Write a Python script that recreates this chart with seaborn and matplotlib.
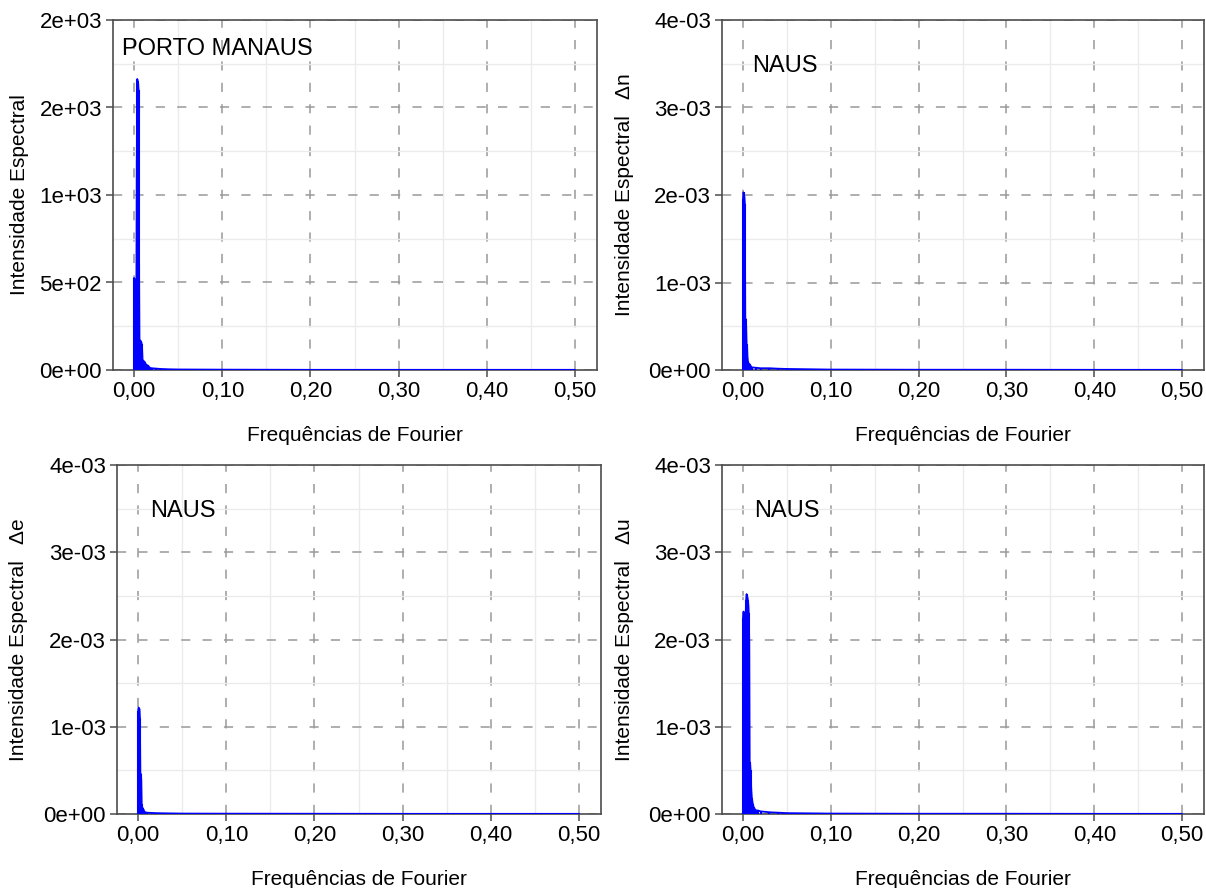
import matplotlib
matplotlib.use("Agg")
import matplotlib.pyplot as plt
import seaborn as sns
from matplotlib.ticker import FuncFormatter, MultipleLocator

# Periodogram ordinates (Fourier frequency, spectral intensity) per series
freq_porto = [0.0000, 0.0005, 0.0010, 0.0015, 0.0020, 0.0025, 0.0030, 0.0035, 0.0040,
              0.0045, 0.0050, 0.0055, 0.0060, 0.0065, 0.0070, 0.0075, 0.0080, 0.0085,
              0.0090, 0.0095, 0.0100, 0.0105, 0.0110, 0.0115, 0.0120, 0.0125, 0.0130,
              0.0135, 0.0145, 0.0155, 0.0165, 0.0180, 0.0200, 0.0250, 0.0300, 0.0400,
              0.0500, 0.1000, 0.2000, 0.3000, 0.4000, 0.5000]
spec_porto = [526, 520, 500, 400, 380, 354, 1200, 1663, 1650,
              1640, 1600, 600, 171, 170, 168, 165, 160, 150,
              120, 57, 55, 52, 50, 48, 45, 40, 35,
              29, 28, 26, 20, 12, 10, 8, 6, 4,
              3, 2, 1, 1, 1, 1]

freq_dn = [0.0000, 0.0005, 0.0010, 0.0015, 0.0020, 0.0025, 0.0030, 0.0035, 0.0040,
           0.0045, 0.0050, 0.0055, 0.0060, 0.0070, 0.0080, 0.0090, 0.0100, 0.0150,
           0.0200, 0.0300, 0.0400, 0.0500, 0.1000, 0.2000, 0.3000, 0.4000, 0.5000]
spec_dn = [0.00195, 0.00203, 0.00200, 0.00198, 0.00190, 0.00060, 0.00058, 0.00050, 0.00030,
           0.00028, 0.00015, 0.00010, 0.00008, 0.00007, 0.00006, 0.00004, 0.00003, 0.000025,
           0.00002, 0.00002, 0.000015, 0.000012, 0.000005, 0.000003, 0.000003, 0.000002, 0.000002]

freq_de = [0.0000, 0.0005, 0.0010, 0.0015, 0.0020, 0.0025, 0.0030, 0.0035, 0.0040,
           0.0045, 0.0050, 0.0055, 0.0060, 0.0070, 0.0080, 0.0100, 0.0200, 0.0300,
           0.0500, 0.1000, 0.2000, 0.3000, 0.4000, 0.5000]
spec_de = [0.00118, 0.00122, 0.00121, 0.00120, 0.00110, 0.00047, 0.00046, 0.00040, 0.00012,
           0.00008, 0.00007, 0.00006, 0.00005, 0.00003, 0.00002, 0.000015, 0.00001, 0.000008,
           0.000005, 0.000004, 0.000003, 0.000002, 0.000002, 0.000002]

freq_du = [0.0000, 0.0005, 0.0010, 0.0015, 0.0020, 0.0025, 0.0030, 0.0035, 0.0040,
           0.0045, 0.0050, 0.0055, 0.0060, 0.0065, 0.0070, 0.0075, 0.0080, 0.0085,
           0.0090, 0.0095, 0.0100, 0.0110, 0.0120, 0.0130, 0.0150, 0.0170, 0.0200,
           0.0300, 0.0400, 0.0500, 0.1000, 0.2000, 0.3000, 0.4000, 0.5000]
spec_du = [0.00225, 0.00232, 0.00230, 0.00228, 0.00225, 0.00222, 0.00230, 0.00245, 0.00252,
           0.00250, 0.00248, 0.00245, 0.00240, 0.00230, 0.00200, 0.00060, 0.00058, 0.00050,
           0.00035, 0.00025, 0.00018, 0.00012, 0.00008, 0.00006, 0.00004, 0.00004, 0.00003,
           0.00002, 0.000015, 0.00001, 0.000005, 0.000003, 0.000003, 0.000002, 0.000002]

x_ticks = [0.0, 0.1, 0.2, 0.3, 0.4, 0.5]
x_title = "Frequências de Fourier"
y_title = "Intensidade Espectral"

sns.set_theme(style="white")
plt.rcParams["font.family"] = ["Liberation Sans", "DejaVu Sans"]

W, H = 1206, 888
fig = plt.figure(figsize=(W / 100, H / 100), dpi=100)


def make_axes(left, top, right, bottom):
    return fig.add_axes([left / W, 1 - bottom / H, (right - left) / W, (bottom - top) / H])


def draw(ax, freq, spec, ymax, ystep, tag, tag_xy, ylab, ylab_x):
    ax.vlines(freq, 0, spec, color="blue", lw=1.5, zorder=3)
    sns.lineplot(x=freq, y=spec, ax=ax, color="blue", lw=1.3, sort=False,
                 estimator=None, zorder=3)
    ax.set_xlim(-0.024, 0.525)
    ax.set_ylim(0, ymax)
    ax.set_xticks(x_ticks)
    ax.xaxis.set_minor_locator(MultipleLocator(0.05))
    ax.yaxis.set_major_locator(MultipleLocator(ystep))
    ax.yaxis.set_minor_locator(MultipleLocator(ystep / 2))
    ax.xaxis.set_major_formatter(FuncFormatter(lambda v, _: f"{v:.2f}".replace(".", ",")))
    ax.yaxis.set_major_formatter(FuncFormatter(lambda v, _: f"{v:.0e}"))
    ax.set_axisbelow(True)
    ax.grid(which="minor", color="#ebebeb", lw=1.0, ls="-")
    ax.grid(which="major", color="#999999", lw=1.1, ls=(0, (6, 8)))
    for s in ax.spines.values():
        s.set_visible(True)
        s.set_color("#4d4d4d")
        s.set_linewidth(1.2)
    ax.tick_params(which="major", direction="out", length=5, width=1.1, color="#4d4d4d",
                   labelsize=16, labelcolor="black", pad=3,
                   bottom=True, left=True, top=False, right=False)
    ax.tick_params(which="minor", length=0)
    ax.set_xlabel(x_title, fontsize=15, color="black")
    ax.set_ylabel(ylab, fontsize=15, color="black")
    ax.xaxis.label.set_va("center")
    ax.xaxis.set_label_coords(0.5, -0.188)
    ax.yaxis.label.set_rotation_mode("default")
    ax.yaxis.label.set_va("center")
    ax.yaxis.label.set_ha("center")
    ax.yaxis.set_label_coords(ylab_x, 0.5)
    ax.text(tag_xy[0], tag_xy[1], tag, transform=ax.transAxes, fontsize=17,
            color="black", ha="left", va="baseline")


ax_tl = make_axes(113, 20, 597, 370)
ax_tr = make_axes(722, 20, 1204, 370)
ax_bl = make_axes(117, 465, 601, 814)
ax_br = make_axes(722, 465, 1204, 814)

draw(ax_tl, freq_porto, spec_porto, 2000, 500, "PORTO MANAUS", (0.018, 0.90),
     y_title, -0.194)
draw(ax_tr, freq_dn, spec_dn, 0.004, 0.001, "NAUS", (0.062, 0.851),
     y_title + "   Δn", -0.203)
draw(ax_bl, freq_de, spec_de, 0.004, 0.001, "NAUS", (0.068, 0.852),
     y_title + "   Δe", -0.203)
draw(ax_br, freq_du, spec_du, 0.004, 0.001, "NAUS", (0.067, 0.852),
     y_title + "   Δu", -0.203)

fig.savefig("out.png", dpi=100, facecolor="white")
